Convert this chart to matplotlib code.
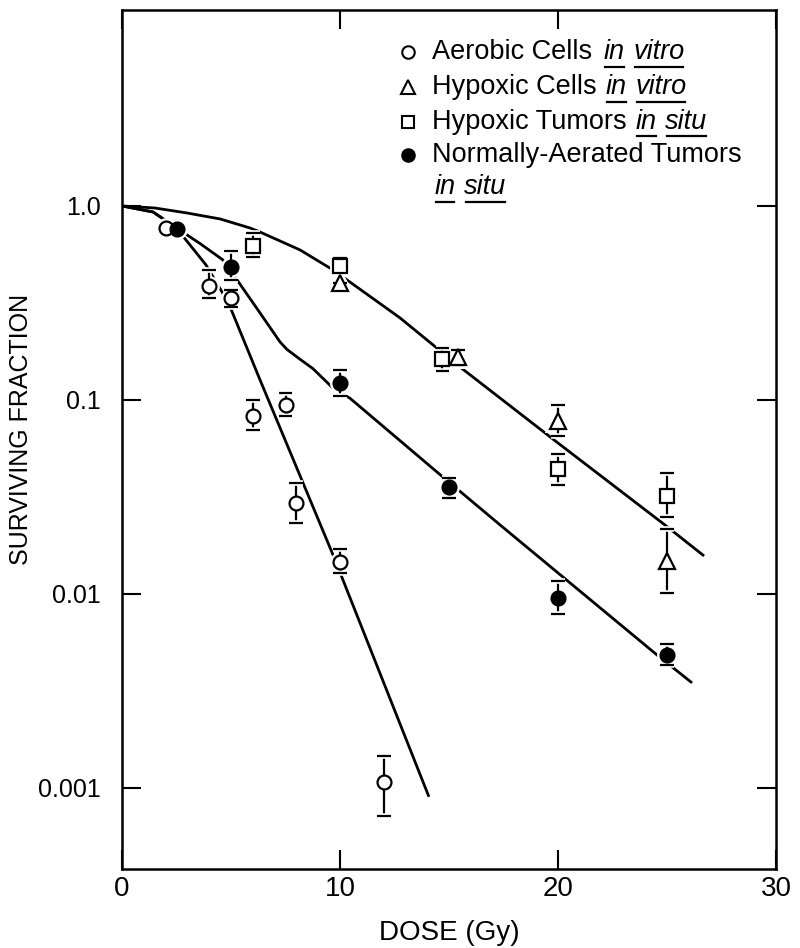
import matplotlib
matplotlib.use("Agg")
import matplotlib.pyplot as plt
import matplotlib.patheffects as pe
import numpy as np

# survival data: dose (Gy), surviving fraction, error bar low/high
aerobic_dose = [2.0, 4.0, 5.0, 6.0, 7.5, 8.0, 10.0, 12.0]
aerobic_sf = [0.77, 0.387, 0.336, 0.083, 0.094, 0.0294, 0.0146, 0.00107]
aerobic_lo = [0.77, 0.336, 0.302, 0.070, 0.083, 0.0233, 0.0128, 0.00072]
aerobic_hi = [0.77, 0.468, 0.369, 0.100, 0.109, 0.0374, 0.0171, 0.00146]

hypcell_dose = [10.0, 15.4, 20.0, 25.0]
hypcell_sf = [0.401, 0.167, 0.078, 0.0148]
hypcell_lo = [0.373, 0.151, 0.065, 0.0101]
hypcell_hi = [0.401, 0.181, 0.094, 0.0216]

hyptum_dose = [6.0, 10.0, 14.7, 20.0, 25.0]
hyptum_sf = [0.622, 0.491, 0.163, 0.0441, 0.032]
hyptum_lo = [0.546, 0.457, 0.141, 0.0366, 0.0250]
hyptum_hi = [0.726, 0.540, 0.185, 0.0527, 0.0422]

normal_dose = [2.5, 5.0, 10.0, 15.0, 20.0, 25.0]
normal_sf = [0.761, 0.485, 0.122, 0.0356, 0.00953, 0.00485]
normal_lo = [0.761, 0.416, 0.105, 0.0313, 0.0079, 0.0043]
normal_hi = [0.761, 0.586, 0.143, 0.0397, 0.0116, 0.0055]

# hand-drawn fit curves
hyp_curve_dose = [0, 1.51, 2.98, 4.50, 5.87, 6.33, 8.17, 9.68, 12.75, 15.5, 20.0, 24.9, 26.7]
hyp_curve_sf = [1.0, 0.976, 0.920, 0.857, 0.770, 0.734, 0.593, 0.468, 0.265, 0.148, 0.060, 0.0227, 0.0157]

aer_curve_dose = [0, 1.42, 2.3, 2.75, 3.85, 4.59, 5.0, 6.33, 8.21, 9.68, 14.08]
aer_curve_sf = [1.0, 0.931, 0.80, 0.709, 0.497, 0.360, 0.294, 0.127, 0.0396, 0.0159, 0.00090]

norm_curve_dose = [0, 1.42, 2.57, 3.58, 4.63, 5.18, 6.33, 7.25, 7.57, 8.17, 8.76, 9.68,
                   10.46, 14.45, 17.34, 24.54, 26.15]
norm_curve_sf = [1.0, 0.931, 0.761, 0.64, 0.527, 0.431, 0.281, 0.199, 0.182, 0.162, 0.145,
                 0.115, 0.102, 0.0425, 0.0227, 0.00485, 0.00348]

yticks = [0.001, 0.01, 0.1, 1.0]
ytick_labels = ["0.001", "0.01", "0.1", "1.0"]
xticks = [0, 10, 20, 30]

FONT = "Liberation Sans"
plt.rcParams["font.family"] = FONT

fig = plt.figure(figsize=(8, 9.48), dpi=100)
ax = fig.add_axes([0.1525, 0.0833, 0.8175, 0.9062])

for xs, ys in [(hyp_curve_dose, hyp_curve_sf), (aer_curve_dose, aer_curve_sf),
               (norm_curve_dose, norm_curve_sf)]:
    ax.plot(xs, ys, color="black", lw=2.0, zorder=2, solid_capstyle="butt")

bar_halo = [pe.withStroke(linewidth=4, foreground="white")]


def series(dose, sf, lo, hi, marker, face, ms):
    sf = np.array(sf)
    yerr = [sf - np.array(lo), np.array(hi) - sf]
    # white ring under everything else so the curves break around each point
    ax.plot(dose, sf, linestyle="none", marker=marker, ms=ms, mfc="white",
            mec="white", mew=5, zorder=3)
    _, caps, bars = ax.errorbar(dose, sf, yerr=yerr, fmt="none", ecolor="black",
                                elinewidth=1.6, capsize=5, capthick=1.6, zorder=4)
    for b in bars:
        b.set_path_effects(bar_halo)
    for c in caps:
        c.set_path_effects(bar_halo)
    ax.plot(dose, sf, linestyle="none", marker=marker, ms=ms, mfc=face,
            mec="black", mew=1.6, zorder=5)


series(aerobic_dose, aerobic_sf, aerobic_lo, aerobic_hi, "o", "white", 10)
series(hypcell_dose, hypcell_sf, hypcell_lo, hypcell_hi, "^", "white", 11)
series(hyptum_dose, hyptum_sf, hyptum_lo, hyptum_hi, "s", "white", 9.5)
series(normal_dose, normal_sf, normal_lo, normal_hi, "o", "black", 10)

ax.set_yscale("log")
ax.set_xlim(0, 30)
ax.set_ylim(3.82e-4, 10.24)
ax.set_yticks(yticks)
ax.set_yticklabels(ytick_labels)
ax.yaxis.set_minor_locator(matplotlib.ticker.NullLocator())
ax.set_xticks(xticks)
ax.tick_params(direction="in", length=14, width=1.5, top=True, right=True)
ax.tick_params(axis="y", pad=15, labelsize=18)
ax.tick_params(axis="x", pad=5, labelsize=20)
for s in ax.spines.values():
    s.set_linewidth(1.8)

ax.set_xlabel("DOSE (Gy)", fontsize=20, labelpad=13)
ax.set_ylabel("SURVIVING FRACTION", fontsize=18)
ax.yaxis.set_label_coords(-0.136, 0.512)

# legend, written out by hand so the italic words can be underlined
legend_rows = [
    ("o", "white", 9, "Aerobic Cells", ["in", "vitro"], 0.951),
    ("^", "white", 10, "Hypoxic Cells", ["in", "vitro"], 0.910),
    ("s", "white", 8.5, "Hypoxic Tumors", ["in", "situ"], 0.870),
    ("o", "black", 9, "Normally-Aerated Tumors", [], 0.831),
]
leg_marker_x = 0.4375
leg_text_x = 0.474
fs = 19.5
fig.canvas.draw()
renderer = fig.canvas.get_renderer()
to_axes = ax.transAxes.inverted()
italic_words = []

for marker, face, ms, label, words, y in legend_rows:
    ax.plot([leg_marker_x], [y], transform=ax.transAxes, marker=marker, ms=ms,
            mfc=face, mec="black", mew=1.5, linestyle="none", clip_on=False)
    t = ax.text(leg_text_x, y, label, transform=ax.transAxes, fontsize=fs,
                va="center", ha="left")
    x_end = to_axes.transform(t.get_window_extent(renderer).p1)[0]
    gap = 0.018 if label.startswith("Aerobic") else 0.014
    x = x_end + gap
    for w in words:
        it = ax.text(x, y, w, transform=ax.transAxes, fontsize=fs, style="italic",
                     va="center", ha="left")
        italic_words.append(it)
        x = to_axes.transform(it.get_window_extent(renderer).p1)[0] + 0.013

# second line of the last entry
x = 0.478
for w in ["in", "situ"]:
    it = ax.text(x, 0.794, w, transform=ax.transAxes, fontsize=fs, style="italic",
                 va="center", ha="left")
    italic_words.append(it)
    x = to_axes.transform(it.get_window_extent(renderer).p1)[0] + 0.013

for it in italic_words:
    bb = it.get_window_extent(renderer)
    (x0, y0), (x1, _) = to_axes.transform([[bb.x0, bb.y0], [bb.x1, bb.y0]])
    ax.plot([x0 + 0.002, x1 - 0.002], [y0 - 0.002, y0 - 0.002], transform=ax.transAxes,
            color="black", lw=1.6, clip_on=False)

fig.savefig("out.png", dpi=100)
